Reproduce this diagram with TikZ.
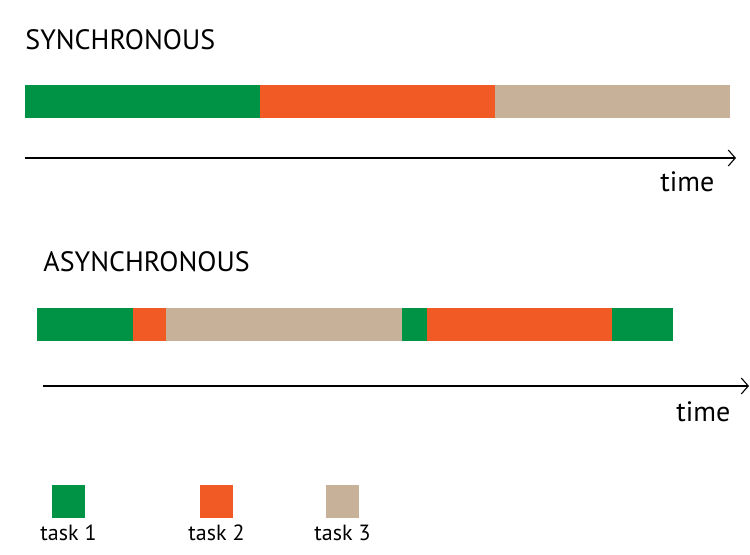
\documentclass[tikz,border=0pt]{standalone}
\usepackage{fontspec}
\setmainfont{PT Sans}
\usetikzlibrary{arrows.meta}
\definecolor{tachevert}{RGB}{0,146,69}
\definecolor{tacheorange}{RGB}{241,90,36}
\definecolor{tachebeige}{RGB}{199,178,153}

\begin{document}
\begin{tikzpicture}[x=0.5pt,y=-0.5pt,
	titre/.style={anchor=base west,inner sep=0pt,font=\fontsize{14}{17}\selectfont},
	temps/.style={anchor=base west,inner sep=0pt,font=\fontsize{14}{17}\selectfont},
	fleche/.style={-{Straight Barb[length=3.5pt,width=8pt]},line width=0.55pt},
	carre/.style={minimum size=16.5pt,inner sep=0pt,draw=none},
	legende/.style={anchor=base,yshift=-11pt,inner sep=0pt,font=\fontsize{11}{13}\selectfont}]
	\useasboundingbox (0,0) rectangle (750,555);
	% Synchrone %
	\node[titre] (sync) at (25,50) {SYNCHRONOUS};
	\fill[tachevert] (25,85) rectangle (260,118);
	\fill[tacheorange] (260,85) rectangle (495,118);
	\fill[tachebeige] (495,85) rectangle (730,118);
	\coordinate (s0) at (25,158);
	\coordinate (s1) at (736,158);
	\draw[fleche] (s0) -- (s1);
	\node[temps] (tsync) at (660,192) {time};
	% Asynchrone %
	\node[titre] (async) at (43,272) {ASYNCHRONOUS};
	\fill[tachevert] (37,308) rectangle (133,341);
	\fill[tacheorange] (133,308) rectangle (166,341);
	\fill[tachebeige] (166,308) rectangle (402,341);
	\fill[tachevert] (402,308) rectangle (427,341);
	\fill[tacheorange] (427,308) rectangle (612,341);
	\fill[tachevert] (612,308) rectangle (673,341);
	\coordinate (a0) at (43,386);
	\coordinate (a1) at (749,386);
	\draw[fleche] (a0) -- (a1);
	\node[temps] (tasync) at (676,422) {time};
	% Legende %
	\node[carre,fill=tachevert] (c1) at (68.5,501.5) {};
	\node[legende] (l1) at (c1.south) {task 1};
	\node[carre,fill=tacheorange] (c2) at (216.5,501.5) {};
	\node[legende] (l2) at (c2.south) {task 2};
	\node[carre,fill=tachebeige] (c3) at (342.5,501.5) {};
	\node[legende] (l3) at (c3.south) {task 3};
\end{tikzpicture}
\end{document}
